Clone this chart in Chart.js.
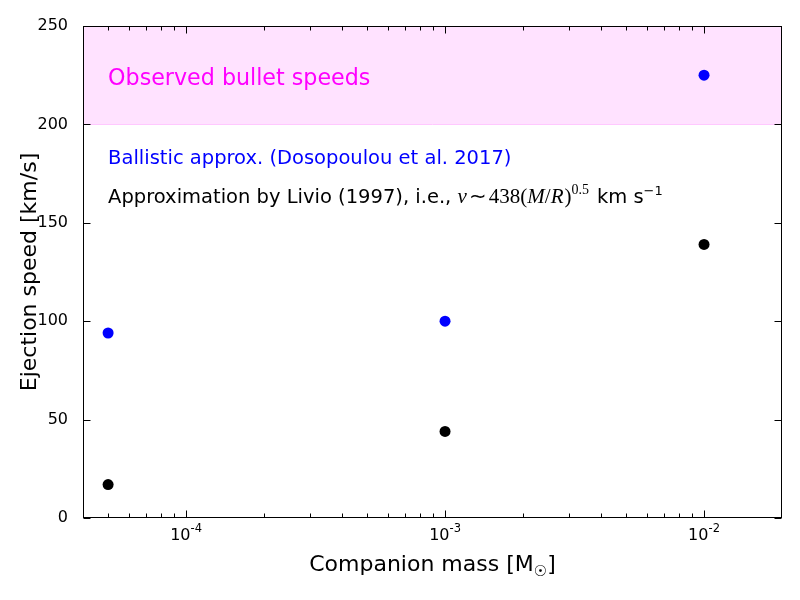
<!DOCTYPE html>
<html>
<head>
<meta charset="utf-8">
<script src="https://cdn.jsdelivr.net/npm/chart.js@4.4.0/dist/chart.umd.min.js"></script>
<style>
  html, body { margin: 0; padding: 0; background: #fff; }
  #wrap { width: 800px; height: 600px; }
</style>
</head>
<body>
<div id="wrap"><canvas id="c" width="800" height="600"></canvas></div>
<script>
// companion masses (M_sun) and ejection speeds (km/s)
const masses = [5e-5, 1e-3, 1e-2];
const ballisticSpeeds = [94, 100, 225];
const livioSpeeds = [17, 44, 139];

// axes
const xTicks = [1e-4, 1e-3, 1e-2];
const xTickExps = ['-4', '-3', '-2'];
const yTicks = [0, 50, 100, 150, 200, 250];
const observedBand = [200, 250];

const SANS = '"DejaVu Sans", sans-serif';
const SERIF = '"Liberation Serif", serif';

// minor ticks 2..9 in every decade
const xMinor = [];
for (let d = -5; d <= -2; d++) {
  for (let m = 2; m <= 9; m++) xMinor.push(m * Math.pow(10, d));
}

function drawRuns(ctx, x, y, runs) {
  for (const r of runs) {
    ctx.font = r.font;
    ctx.fillStyle = r.color || '#000';
    ctx.fillText(r.t, x, y + (r.dy || 0));
    x += ctx.measureText(r.t).width + (r.gap || 0);
  }
  return x;
}

function runsWidth(ctx, runs) {
  let w = 0;
  for (const r of runs) {
    ctx.font = r.font;
    w += ctx.measureText(r.t).width + (r.gap || 0);
  }
  return w;
}

const bandPlugin = {
  id: 'band',
  beforeDatasetsDraw(chart) {
    const { ctx, chartArea: a, scales: { y } } = chart;
    const top = y.getPixelForValue(observedBand[1]);
    const bot = y.getPixelForValue(observedBand[0]);
    ctx.save();
    ctx.fillStyle = '#ffe2ff';
    ctx.fillRect(a.left, top, a.right - a.left, bot - top);
    ctx.strokeStyle = '#ffc8ff';
    ctx.lineWidth = 1;
    ctx.beginPath();
    ctx.moveTo(a.left, Math.round(bot) + 0.5);
    ctx.lineTo(a.right, Math.round(bot) + 0.5);
    ctx.stroke();
    ctx.restore();
  }
};

const framePlugin = {
  id: 'frame',
  afterDraw(chart) {
    const { ctx, chartArea: a, scales: { x, y } } = chart;
    ctx.save();
    ctx.strokeStyle = '#000';
    ctx.lineWidth = 1;
    const L = Math.round(a.left) + 0.5, R = Math.round(a.right) - 0.5;
    const T = Math.round(a.top) + 0.5, B = Math.round(a.bottom) - 0.5;
    ctx.beginPath();
    // y ticks, left and right
    yTicks.forEach(v => {
      const py = Math.round(y.getPixelForValue(v)) + 0.5;
      ctx.moveTo(L, py); ctx.lineTo(L + 7, py);
      ctx.moveTo(R, py); ctx.lineTo(R - 7, py);
    });
    // x ticks, bottom and top
    xTicks.forEach(v => {
      const px = Math.round(x.getPixelForValue(v)) + 0.5;
      ctx.moveTo(px, B); ctx.lineTo(px, B - 7);
      ctx.moveTo(px, T); ctx.lineTo(px, T + 7);
    });
    xMinor.forEach(v => {
      if (v <= x.min || v >= x.max) return;
      const px = Math.round(x.getPixelForValue(v)) + 0.5;
      ctx.moveTo(px, B); ctx.lineTo(px, B - 4);
      ctx.moveTo(px, T); ctx.lineTo(px, T + 4);
    });
    ctx.stroke();
    ctx.strokeRect(L, T, R - L, B - T);

    // x tick labels 10^n
    ctx.textBaseline = 'alphabetic';
    xTicks.forEach((v, i) => {
      const runs = [
        { t: '10', font: '16px ' + SANS },
        { t: xTickExps[i], font: '11.5px ' + SANS, dy: -8 }
      ];
      const px = x.getPixelForValue(v);
      drawRuns(ctx, px - runsWidth(ctx, runs) / 2, 540, runs);
    });

    // x axis title
    const xt = [
      { t: 'Companion mass [M', font: '22px ' + SANS },
      { t: '\u2609', font: '15px ' + SANS, dy: 5 },
      { t: ']', font: '22px ' + SANS }
    ];
    drawRuns(ctx, (a.left + a.right) / 2 - runsWidth(ctx, xt) / 2, 571, xt);

    // annotations placed in data coordinates
    const x0 = x.getPixelForValue(masses[0]);
    drawRuns(ctx, x0, y.getPixelForValue(220), [
      { t: 'Observed bullet speeds', font: '22.2px ' + SANS, color: '#ff00ff' }
    ]);
    drawRuns(ctx, x0, y.getPixelForValue(180), [
      { t: 'Ballistic approx. (Dosopoulou et al. 2017)', font: '19.5px ' + SANS, color: '#0000ff' }
    ]);
    drawRuns(ctx, x0, y.getPixelForValue(160), [
      { t: 'Approximation by Livio (1997), i.e., ', font: '19.5px ' + SANS },
      { t: 'v', font: 'italic 21px ' + SERIF, gap: 2 },
      { t: '\u223c', font: '21px ' + SERIF, gap: 2 },
      { t: '438(', font: '21px ' + SERIF },
      { t: 'M', font: 'italic 21px ' + SERIF },
      { t: '/', font: '21px ' + SERIF },
      { t: 'R', font: 'italic 21px ' + SERIF, gap: 1 },
      { t: ')', font: '21px ' + SERIF },
      { t: '0.5', font: '14px ' + SERIF, dy: -9, gap: 8 },
      { t: 'km s', font: '19.5px ' + SANS },
      { t: '\u22121', font: '13px ' + SANS, dy: -8 }
    ]);
    ctx.restore();
  }
};

new Chart(document.getElementById('c'), {
  type: 'scatter',
  data: {
    datasets: [
      {
        label: 'Ballistic',
        data: masses.map((m, i) => ({ x: m, y: ballisticSpeeds[i] })),
        backgroundColor: '#0000ff',
        borderColor: '#0000ff',
        pointRadius: 5.5,
        pointHoverRadius: 5.5,
        borderWidth: 0
      },
      {
        label: 'Livio',
        data: masses.map((m, i) => ({ x: m, y: livioSpeeds[i] })),
        backgroundColor: '#000000',
        borderColor: '#000000',
        pointRadius: 5.5,
        pointHoverRadius: 5.5,
        borderWidth: 0
      }
    ]
  },
  options: {
    responsive: false,
    animation: false,
    layout: { padding: { left: 0, top: 26, right: 18, bottom: 0 } },
    plugins: {
      legend: { display: false },
      tooltip: { enabled: false }
    },
    scales: {
      x: {
        type: 'logarithmic',
        min: 4e-5,
        max: 2e-2,
        grid: { display: false },
        border: { display: false },
        ticks: { display: false },
        afterFit: s => { s.height = 82; }
      },
      y: {
        type: 'linear',
        min: 0,
        max: 250,
        grid: { display: false },
        border: { display: false },
        ticks: {
          stepSize: 50,
          padding: 7,
          color: '#000',
          font: { family: SANS, size: 16 }
        },
        title: {
          display: true,
          text: 'Ejection speed [km/s]',
          color: '#000',
          font: { family: SANS, size: 22 },
          padding: { top: 17 }
        },
        afterFit: s => { s.width = 83; }
      }
    }
  },
  plugins: [bandPlugin, framePlugin]
});
</script>
</body>
</html>
